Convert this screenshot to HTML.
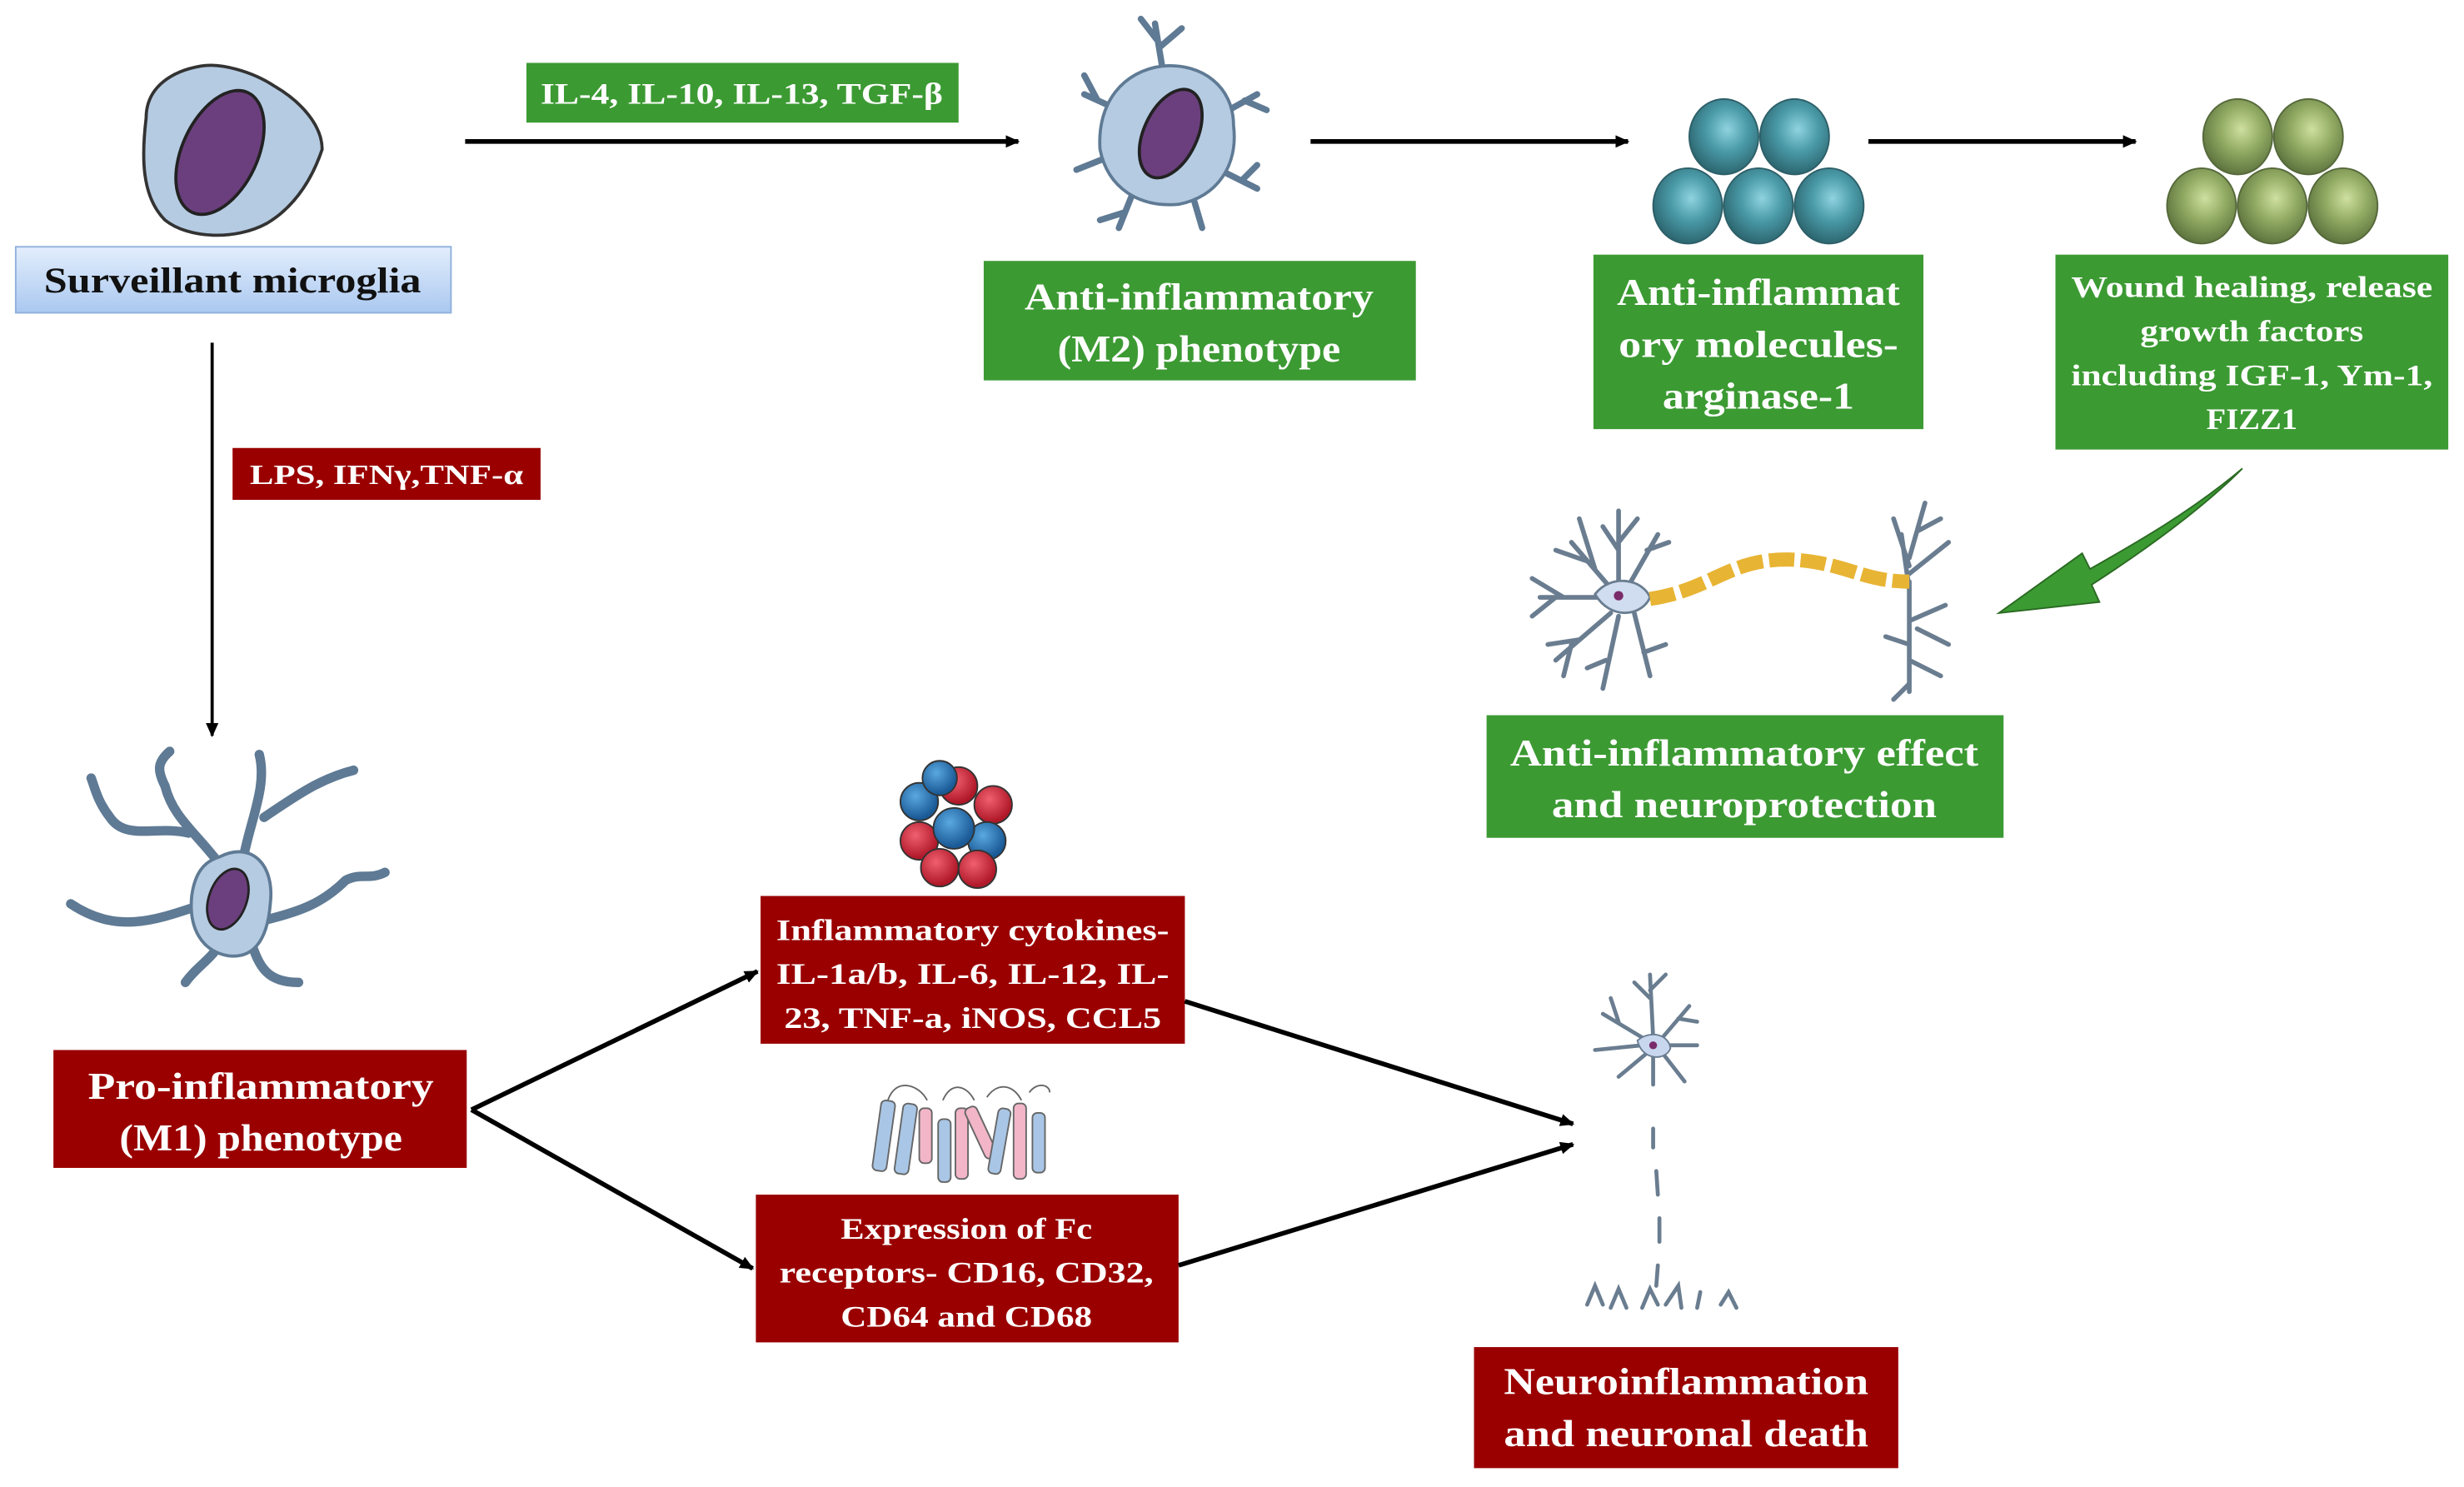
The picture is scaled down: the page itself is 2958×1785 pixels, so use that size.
<!DOCTYPE html>
<html><head><meta charset="utf-8"><style>
html,body{margin:0;padding:0;background:#fff}
svg{display:block}
text{font-family:"Liberation Serif",serif;font-weight:bold;fill:#fff;text-anchor:middle}
</style></head><body>
<svg width="2958" height="1785" viewBox="0 0 1568 946" preserveAspectRatio="none" xmlns="http://www.w3.org/2000/svg">
<defs>
<linearGradient id="bl" x1="0" y1="0" x2="0" y2="1"><stop offset="0" stop-color="#e3eefc"/><stop offset="1" stop-color="#aac8f0"/></linearGradient>
<radialGradient id="teal" cx="0.55" cy="0.4" r="0.6"><stop offset="0" stop-color="#8fd3df"/><stop offset="0.5" stop-color="#4a9aa8"/><stop offset="1" stop-color="#2d6770"/></radialGradient>
<radialGradient id="olive" cx="0.55" cy="0.4" r="0.6"><stop offset="0" stop-color="#cfe0a0"/><stop offset="0.5" stop-color="#92ab63"/><stop offset="1" stop-color="#5f7540"/></radialGradient>
<radialGradient id="rd" cx="0.4" cy="0.35" r="0.6"><stop offset="0" stop-color="#f06070"/><stop offset="1" stop-color="#b01828"/></radialGradient>
<radialGradient id="bu" cx="0.4" cy="0.35" r="0.6"><stop offset="0" stop-color="#5aa8e0"/><stop offset="1" stop-color="#1a5a96"/></radialGradient>
<marker id="ah" markerWidth="10" markerHeight="10" refX="8" refY="5" orient="auto" markerUnits="userSpaceOnUse"><path d="M0,1 L9,5 L0,9 Z" fill="#000"/></marker>
</defs>

<!-- Surveillant cell -->
<path d="M128,42 C110,45 93,55 93,75 C90,100 90,125 105,140 C120,152 150,153 170,142 C190,130 200,110 205,95 C205,80 192,65 175,55 C160,45 140,40 128,42 Z" fill="#b5cbe2" stroke="#333" stroke-width="2"/>
<ellipse cx="140" cy="97" rx="24" ry="42" transform="rotate(25 140 97)" fill="#6b3f7d" stroke="#222" stroke-width="2"/>
<rect x="10" y="157" width="277" height="42" fill="url(#bl)" stroke="#8fb0db" stroke-width="1"/>
<text x="148" y="186" style="fill:#111;font-size:23px" textLength="240" lengthAdjust="spacingAndGlyphs">Surveillant microglia</text>

<!-- top arrows -->
<line x1="296" y1="90" x2="648" y2="90" stroke="#000" stroke-width="3" marker-end="url(#ah)"/>
<rect x="335" y="40" width="275" height="38" fill="#3c9a33"/>
<text x="472" y="66" style="font-size:19px" textLength="256" lengthAdjust="spacingAndGlyphs">IL-4, IL-10, IL-13, TGF-β</text>
<line x1="834" y1="90" x2="1036" y2="90" stroke="#000" stroke-width="3" marker-end="url(#ah)"/>
<line x1="1189" y1="90" x2="1359" y2="90" stroke="#000" stroke-width="3" marker-end="url(#ah)"/>

<!-- M2 cell -->
<g stroke="#5f7a94" stroke-width="4" fill="none" stroke-linecap="round">
<path d="M740,45 L735,15 M736,25 L726,12 M738,30 L752,18"/>
<path d="M712,70 L690,60 M698,63 L690,48"/>
<path d="M705,100 L685,108"/>
<path d="M720,125 L712,145 M716,135 L700,140"/>
<path d="M760,128 L765,145"/>
<path d="M780,110 L800,120 M790,115 L800,105"/>
<path d="M782,70 L800,60 M792,64 L806,70"/>
</g>
<path d="M740,42 C765,40 785,55 785,80 C788,105 775,125 750,130 C725,132 705,120 700,95 C698,65 715,45 740,42 Z" fill="#b5cbe2" stroke="#5f7a94" stroke-width="2"/>
<ellipse cx="745" cy="85" rx="17" ry="30" transform="rotate(25 745 85)" fill="#6b3f7d" stroke="#222" stroke-width="2"/>
<rect x="626" y="166" width="275" height="76" fill="#3c9a33"/>
<text x="763" y="197" style="font-size:24px" textLength="222" lengthAdjust="spacingAndGlyphs">Anti-inflammatory</text>
<text x="763" y="230" style="font-size:24px" textLength="180" lengthAdjust="spacingAndGlyphs">(M2) phenotype</text>

<!-- teal spheres -->
<g stroke="#2d5f68" stroke-width="1">
<ellipse cx="1097" cy="87" rx="22" ry="24" fill="url(#teal)"/>
<ellipse cx="1142" cy="87" rx="22" ry="24" fill="url(#teal)"/>
<ellipse cx="1074" cy="131" rx="22" ry="24" fill="url(#teal)"/>
<ellipse cx="1119" cy="131" rx="22" ry="24" fill="url(#teal)"/>
<ellipse cx="1164" cy="131" rx="22" ry="24" fill="url(#teal)"/>
</g>
<rect x="1014" y="162" width="210" height="111" fill="#3c9a33"/>
<text x="1119" y="194" style="font-size:24px" textLength="180" lengthAdjust="spacingAndGlyphs">Anti-inflammat</text>
<text x="1119" y="227" style="font-size:24px" textLength="178" lengthAdjust="spacingAndGlyphs">ory molecules-</text>
<text x="1119" y="260" style="font-size:24px" textLength="122" lengthAdjust="spacingAndGlyphs">arginase-1</text>

<!-- olive spheres -->
<g stroke="#55683a" stroke-width="1">
<ellipse cx="1424" cy="87" rx="22" ry="24" fill="url(#olive)"/>
<ellipse cx="1469" cy="87" rx="22" ry="24" fill="url(#olive)"/>
<ellipse cx="1401" cy="131" rx="22" ry="24" fill="url(#olive)"/>
<ellipse cx="1446" cy="131" rx="22" ry="24" fill="url(#olive)"/>
<ellipse cx="1491" cy="131" rx="22" ry="24" fill="url(#olive)"/>
</g>
<rect x="1308" y="162" width="250" height="124" fill="#3c9a33"/>
<text x="1433" y="189" style="font-size:19px" textLength="230" lengthAdjust="spacingAndGlyphs">Wound  healing,  release</text>
<text x="1433" y="217" style="font-size:19px" textLength="142" lengthAdjust="spacingAndGlyphs">growth  factors</text>
<text x="1433" y="245" style="font-size:19px" textLength="230" lengthAdjust="spacingAndGlyphs">including  IGF-1, Ym-1,</text>
<text x="1433" y="273" style="font-size:19px" textLength="58" lengthAdjust="spacingAndGlyphs">FIZZ1</text>

<!-- green curved arrow -->
<path d="M1427,298 C1395,325 1360,345 1330,362 L1325,352 L1272,390 L1336,383 L1331,372 C1365,350 1400,325 1427,298 Z" fill="#3c9a33" stroke="#2a6a22" stroke-width="1"/>

<!-- neuron -->
<g stroke="#6a7d90" stroke-width="3" fill="none" stroke-linecap="round">
<path d="M1030,380 L1000,345 M1010,357 L990,350 M1015,362 L1005,330 M1030,375 L1030,325 M1030,350 L1020,335 M1030,345 L1042,330 M1035,375 L1055,340 M1048,350 L1062,345"/>
<path d="M1020,380 L980,380 M995,380 L975,368 M990,380 L975,392"/>
<path d="M1025,390 L990,420 M1005,407 L985,410 M1000,410 L995,430 M1030,392 L1020,438 M1022,420 L1010,425 M1040,390 L1050,430 M1046,415 L1060,410"/>
<path d="M1215,355 L1225,320 M1220,338 L1235,330 M1215,360 L1205,330 M1215,365 L1240,345 M1215,375 L1210,340"/>
<path d="M1215,370 L1215,440 M1215,395 L1238,385 M1215,410 L1200,405 M1215,420 L1235,430 M1215,435 L1205,445 M1220,400 L1240,410"/>
</g>
<path d="M1015,378 C1025,365 1045,368 1050,380 C1045,392 1025,395 1015,378 Z" fill="#d0dcf0" stroke="#6a7d90" stroke-width="1.5"/>
<circle cx="1030" cy="379" r="3" fill="#7a2b6a"/>
<path d="M1050,381 C1090,375 1100,355 1140,356 C1175,358 1185,370 1215,370" stroke="#e8b434" stroke-width="9" fill="none" stroke-dasharray="16 4"/>
<rect x="946" y="455" width="329" height="78" fill="#3c9a33"/>
<text x="1110" y="487" style="font-size:24px" textLength="298" lengthAdjust="spacingAndGlyphs">Anti-inflammatory  effect</text>
<text x="1110" y="520" style="font-size:24px" textLength="245" lengthAdjust="spacingAndGlyphs">and neuroprotection</text>

<!-- vertical arrow -->
<line x1="135" y1="218" x2="135" y2="468" stroke="#000" stroke-width="2" marker-end="url(#ah)"/>
<rect x="148" y="285" width="196" height="33" fill="#9a0000"/>
<text x="246" y="308" style="font-size:18px" textLength="174" lengthAdjust="spacingAndGlyphs">LPS, IFNγ,TNF-α</text>

<!-- M1 cell -->
<g stroke="#5f7a94" stroke-width="6" fill="none" stroke-linecap="round" stroke-linejoin="round">
<path d="M140,550 C125,530 110,520 105,500 C100,490 100,485 108,478 M120,530 C100,525 80,535 70,520 C62,510 60,500 58,495"/>
<path d="M155,545 C160,520 170,500 165,480 M168,520 C190,505 205,495 225,490"/>
<path d="M130,575 C100,585 75,595 45,575"/>
<path d="M170,585 C190,580 205,575 220,560 C230,555 235,560 245,555"/>
<path d="M160,600 C165,615 170,625 190,625 M140,600 C135,610 125,615 118,625"/>
</g>
<path d="M140,545 C160,535 175,550 172,575 C170,600 160,610 145,608 C128,605 120,590 122,570 C124,555 130,548 140,545 Z" fill="#b5cbe2" stroke="#5f7a94" stroke-width="2"/>
<ellipse cx="145" cy="572" rx="12" ry="20" transform="rotate(20 145 572)" fill="#6b3f7d" stroke="#222" stroke-width="1.5"/>
<rect x="34" y="668" width="263" height="75" fill="#9a0000"/>
<text x="166" y="699" style="font-size:24px" textLength="220" lengthAdjust="spacingAndGlyphs">Pro-inflammatory</text>
<text x="166" y="732" style="font-size:24px" textLength="180" lengthAdjust="spacingAndGlyphs">(M1) phenotype</text>

<!-- cytokine cluster -->
<g stroke="#333" stroke-width="1">
<circle cx="585" cy="510" r="12" fill="url(#bu)"/>
<circle cx="610" cy="500" r="12" fill="url(#rd)"/>
<circle cx="632" cy="512" r="12" fill="url(#rd)"/>
<circle cx="585" cy="535" r="12" fill="url(#rd)"/>
<circle cx="628" cy="535" r="12" fill="url(#bu)"/>
<circle cx="598" cy="552" r="12" fill="url(#rd)"/>
<circle cx="622" cy="553" r="12" fill="url(#rd)"/>
<circle cx="607" cy="527" r="13" fill="url(#bu)"/>
<circle cx="598" cy="495" r="11" fill="url(#bu)"/>
</g>
<rect x="484" y="570" width="270" height="94" fill="#9a0000"/>
<text x="619" y="598" style="font-size:19px" textLength="250" lengthAdjust="spacingAndGlyphs">Inflammatory  cytokines-</text>
<text x="619" y="626" style="font-size:19px" textLength="250" lengthAdjust="spacingAndGlyphs">IL-1a/b, IL-6, IL-12, IL-</text>
<text x="619" y="654" style="font-size:19px" textLength="240" lengthAdjust="spacingAndGlyphs">23, TNF-a, iNOS, CCL5</text>

<!-- receptor icon -->
<g stroke="#666" stroke-width="1">
<path d="M565,700 C570,685 585,690 590,700 M600,700 C605,688 615,690 620,700 M628,698 C635,688 645,690 650,700 M655,695 C660,688 668,690 668,695" fill="none"/>
<rect x="558" y="700" width="9" height="45" rx="3" fill="#a9c6e6" transform="rotate(8 562 722)"/>
<rect x="572" y="702" width="9" height="45" rx="3" fill="#a9c6e6" transform="rotate(8 576 724)"/>
<rect x="585" y="705" width="8" height="35" rx="3" fill="#f2b6c8"/>
<rect x="597" y="712" width="8" height="40" rx="3" fill="#a9c6e6"/>
<rect x="608" y="705" width="8" height="45" rx="3" fill="#f2b6c8"/>
<rect x="620" y="703" width="8" height="35" rx="3" fill="#f2b6c8" transform="rotate(-25 624 720)"/>
<rect x="632" y="705" width="8" height="42" rx="3" fill="#a9c6e6" transform="rotate(10 636 726)"/>
<rect x="645" y="702" width="8" height="48" rx="3" fill="#f2b6c8"/>
<rect x="657" y="708" width="8" height="38" rx="3" fill="#a9c6e6"/>
</g>
<rect x="481" y="760" width="269" height="94" fill="#9a0000"/>
<text x="615" y="788" style="font-size:19px" textLength="160" lengthAdjust="spacingAndGlyphs">Expression of Fc</text>
<text x="615" y="816" style="font-size:19px" textLength="238" lengthAdjust="spacingAndGlyphs">receptors- CD16, CD32,</text>
<text x="615" y="844" style="font-size:19px" textLength="160" lengthAdjust="spacingAndGlyphs">CD64 and CD68</text>

<!-- lower arrows -->
<g stroke="#000" stroke-width="3" marker-end="url(#ah)">
<line x1="300" y1="706" x2="482" y2="618"/>
<line x1="300" y1="706" x2="479" y2="807"/>
<line x1="754" y1="637" x2="1001" y2="715"/>
<line x1="750" y1="805" x2="1001" y2="728"/>
</g>

<!-- dead neuron -->
<g stroke="#6a7d90" stroke-width="2.5" fill="none" stroke-linecap="round">
<path d="M1052,660 L1050,620 M1050,635 L1040,625 M1050,630 L1060,620 M1045,660 L1020,645 M1030,650 L1025,635 M1045,665 L1015,668 M1048,670 L1030,685 M1058,660 L1075,640 M1068,648 L1080,650 M1058,665 L1080,665 M1058,670 L1072,688 M1052,672 L1052,690"/>
<path d="M1052,718 L1052,730 M1054,745 L1055,760 M1056,775 L1056,790 M1055,805 L1054,818"/>
<path d="M1010,830 L1015,818 L1020,830 M1025,832 L1030,820 L1035,832 M1045,832 L1050,820 L1055,830 M1060,830 L1068,818 L1070,832 M1080,832 L1082,822 M1095,830 L1100,822 L1105,832"/>
</g>
<path d="M1042,662 C1050,655 1062,658 1063,667 C1060,675 1045,675 1042,662 Z" fill="#c8d6ee" stroke="#6a7d90" stroke-width="1"/>
<circle cx="1052" cy="665" r="2.5" fill="#7a2b6a"/>
<rect x="938" y="857" width="270" height="77" fill="#9a0000"/>
<text x="1073" y="887" style="font-size:24px" textLength="232" lengthAdjust="spacingAndGlyphs">Neuroinflammation</text>
<text x="1073" y="920" style="font-size:24px" textLength="232" lengthAdjust="spacingAndGlyphs">and neuronal death</text>
</svg>
</body></html>
